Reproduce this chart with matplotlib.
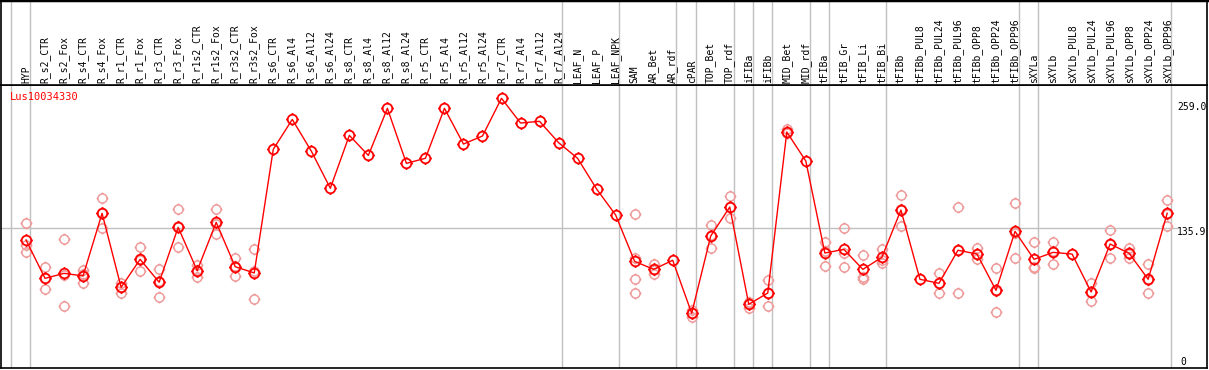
import matplotlib
matplotlib.use("Agg")
import matplotlib.pyplot as plt
from matplotlib.path import Path
import numpy as np

gene = "Lus10034330"

samples = [
    "HYP", "R_s2_CTR", "R_s2_Fox", "R_s4_CTR", "R_s4_Fox", "R_r1_CTR", "R_r1_Fox",
    "R_r3_CTR", "R_r3_Fox", "R_r1s2_CTR", "R_r1s2_Fox", "R_r3s2_CTR", "R_r3s2_Fox",
    "R_s6_CTR", "R_s6_Al4", "R_s6_Al12", "R_s6_Al24", "R_s8_CTR", "R_s8_Al4",
    "R_s8_Al12", "R_s8_Al24", "R_r5_CTR", "R_r5_Al4", "R_r5_Al12", "R_r5_Al24",
    "R_r7_CTR", "R_r7_Al4", "R_r7_Al12", "R_r7_Al24", "LEAF_N", "LEAF_P", "LEAF_NPK",
    "SAM", "AR_Bet", "AR_rdf", "cPAR", "TOP_Bet", "TOP_rdf", "iFIBa", "iFIBb",
    "MID_Bet", "MID_rdf", "tFIBa", "tFIB_Gr", "tFIB_Li", "tFIB_Bi", "tFIBb",
    "tFIBb_PUL8", "tFIBb_PUL24", "tFIBb_PUL96", "tFIBb_OPP8", "tFIBb_OPP24",
    "tFIBb_OPP96", "sXYLa", "sXYLb", "sXYLb_PUL8", "sXYLb_PUL24", "sXYLb_PUL96",
    "sXYLb_OPP8", "sXYLb_OPP24", "sXYLb_OPP96",
]

means = [
    124.8, 88.5, 93.2, 90.8, 150.1, 80.0, 106.5, 84.8, 136.8, 95.8, 141.5, 99.5, 93.6,
    210.7, 239.0, 209.0, 173.8, 223.9, 204.9, 249.5, 197.4, 202.2, 249.5, 215.7, 223.3,
    259.0, 235.6, 237.2, 217.0, 202.2, 173.1, 148.5,
    104.6, 97.0, 105.6, 55.4, 128.6, 156.0, 63.9, 74.6, 227.1, 199.6,
    112.5, 115.9, 97.0, 108.4, 153.2, 87.6, 83.8, 115.1, 111.5, 77.1, 133.0,
    106.5, 113.1, 111.5, 75.6, 121.0, 112.2, 87.6, 150.1,
]

replicates = [
    [140.6, 120.1, 113.7], [98.9, 78.1, 88.5], [125.5, 62.3, 91.8], [96.4, 83.8, 92.2],
    [164.3, 135.8, 150.2], [84.4, 74.9, 80.7], [117.9, 95.8, 105.8], [97.0, 71.2, 86.2],
    [153.9, 118.5, 138.0], [101.1, 90.1, 96.2], [153.9, 130.2, 140.4], [107.4, 91.0, 100.1],
    [116.0, 69.2, 95.6],
    [], [], [], [], [], [], [], [], [], [], [], [], [], [], [], [], [], [], [],
    [149.2, 107.5, 87.6, 74.3], [102.3, 92.3, 96.4], [], [58.5, 51.6, 56.1],
    [139.0, 116.9, 129.9], [166.4, 145.6, 156.0], [66.1, 60.4, 65.2], [86.9, 62.0, 74.9],
    [229.6, 225.8, 226.0], [],
    [122.9, 100.2, 114.4], [135.8, 112.5, 99.3], [110.3, 90.1, 87.9], [116.2, 102.7, 106.3],
    [167.1, 138.1, 154.4], [], [93.2, 74.3, 84.0], [155.7, 74.3, 115.3],
    [116.9, 106.5, 111.1], [98.0, 56.4, 76.9], [159.6, 107.5, 131.9],
    [122.6, 98.3, 99.5], [123.2, 101.8, 114.3], [], [83.8, 67.1, 75.9],
    [134.3, 107.5, 121.2], [117.5, 107.5, 111.6], [102.0, 74.3, 86.5], [162.4, 138.1, 149.8],
]

# last sample index of each tissue group (-1 = line before the first)
group_ends = [-1, 0, 28, 31, 34, 35, 37, 38, 39, 41, 42, 45, 52, 53, 60]

axis_labels = ["259.0", "135.9", "0"]
mid_value = 135.9

W, H = 1209, 370
fig = plt.figure(figsize=(W / 100, H / 100), dpi=100)
fig.patch.set_facecolor("white")

# pixel -> data mapping for x
x0_px, step_px = 26.0, 19.02
left_px, right_px = 1.0, 1207.0
xlim = ((left_px - x0_px) / step_px, (right_px - x0_px) / step_px)

ax = fig.add_axes([left_px / W, 1.7 / H, (right_px - left_px) / W, (368.3 - 85) / H])
top = fig.add_axes([left_px / W, (H - 85) / H, (right_px - left_px) / W, 85 / H])

for a in (ax, top):
    a.set_xlim(*xlim)
    a.set_xticks([])
    a.set_yticks([])
    for s in a.spines.values():
        s.set_color("black")
        s.set_linewidth(1.2)
    for g in group_ends:
        a.axvline(g + 0.2, color="#c0c0c0", lw=1.0, zorder=0)

ax.set_ylim(3.3, 271.6)
top.set_ylim(0, 1)
top.spines["top"].set_linewidth(2.5)

ax.axhline(mid_value, xmax=(1177 - left_px) / (right_px - left_px), color="#c0c0c0", lw=1.0, zorder=0)

# circle marker with four short ticks
circ = Path.unit_circle()
ticks = Path([(0, 1), (0, 1.3), (0, -1), (0, -1.3), (1, 0), (1.3, 0), (-1, 0), (-1.3, 0)],
             [Path.MOVETO, Path.LINETO] * 4)
tick_circle = Path.make_compound_path(circ, ticks)

x = np.arange(len(samples))
for i, reps in enumerate(replicates):
    if reps:
        ax.plot([i] * len(reps), reps, linestyle="none", marker=tick_circle, markersize=8.5,
                markerfacecolor="none", markeredgecolor="#ef9c9c", markeredgewidth=1.1, zorder=2)

ax.plot(x, means, color="red", lw=1.0, zorder=3)
ax.plot(x, means, linestyle="none", marker=tick_circle, markersize=9,
        markerfacecolor="none", markeredgecolor="red", markeredgewidth=1.3, zorder=4)

mono = "DejaVu Sans Mono"
for i, name in enumerate(samples):
    top.text(i, 2 / 85, name, rotation=90, ha="center", va="bottom",
             fontsize=7, family=mono, color="black")

fig.text(10 / W, 1 - 96.5 / H, gene, color="red", fontsize=7.5, family=mono, va="center")

label_y = [106.7, 232.0, 361.7]
label_x = [1177, 1177, 1180]
for lab, lx, ly in zip(axis_labels, label_x, label_y):
    fig.text(lx / W, 1 - ly / H, lab, fontsize=7, family=mono, va="center", ha="left")

fig.savefig("out.png", dpi=100)
